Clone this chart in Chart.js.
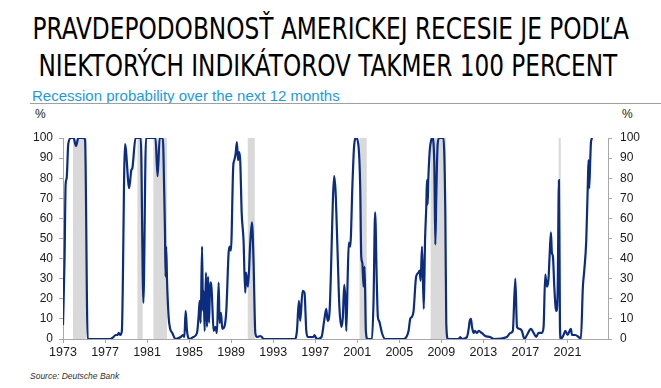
<!DOCTYPE html>
<html>
<head>
<meta charset="utf-8">
<script src="https://cdn.jsdelivr.net/npm/chart.js@4.4.1/dist/chart.umd.min.js"></script>
<style>
  body { margin: 0; background: #fff; width: 661px; height: 388px; position: relative; overflow: hidden; }
  .title { position: absolute; left: 330px; white-space: nowrap;
           font-family: "Liberation Sans Narrow", "DejaVu Sans Condensed", "Liberation Sans", sans-serif;
           font-size: 31px; line-height: 32px; color: #000; transform-origin: center; }
  #subtitle { position: absolute; left: 32px; top: 87px; font-family: "Liberation Sans", Arial, sans-serif;
              font-size: 15px; color: #1f9ad8; white-space: nowrap; }
  #rule { position: absolute; left: 30px; top: 103px; width: 631px; height: 0; border-top: 1.5px solid #a0a0a0; }
  .pct { position: absolute; top: 107px; font-family: "Liberation Sans", Arial, sans-serif; font-size: 12px; color: #222; }
  #source { position: absolute; left: 30px; top: 371px; font-family: "Liberation Sans", Arial, sans-serif;
            font-size: 8.5px; font-style: italic; color: #333; }
  #chart { position: absolute; left: 0; top: 105px; }
</style>
</head>
<body>
<div class="title" id="t1" style="top:12px">PRAVDEPODOBNOSŤ AMERICKEJ RECESIE JE PODĽA</div>
<div class="title" id="t2" style="top:49px">NIEKTORÝCH INDIKÁTOROV TAKMER 100 PERCENT</div>
<div id="subtitle">Recession probability over the next 12 months</div>
<div id="rule"></div>
<div class="pct" style="left:35px">%</div>
<div class="pct" style="left:622px">%</div>
<canvas id="chart" width="661" height="265"></canvas>
<div id="source">Source: Deutsche Bank</div>

<script>
// fit the two title lines to the width they have in the picture
function fitWidth(id, target, center) {
  let el = document.getElementById(id);
  let w = el.offsetWidth;
  el.style.left = (center - w / 2) + 'px';
  el.style.transform = 'scaleX(' + (target / w) + ')';
}
fitWidth('t1', 596, 330);
fitWidth('t2', 579, 327.5);

// Recession probability (decimal year, %)
const years = [
  1973.00, 1973.15, 1973.25, 1973.35, 1973.50, 1973.76, 1974.00, 1974.24, 1974.46, 1974.94,
  1975.10, 1975.35, 1977.50, 1977.80, 1978.00, 1978.20, 1978.30, 1978.45, 1978.60, 1978.90,
  1979.30, 1979.50, 1979.60, 1979.90, 1980.40, 1980.65, 1980.90, 1981.80, 1982.00, 1982.20,
  1982.50, 1982.64, 1982.70, 1982.76, 1982.82, 1982.90, 1983.05, 1983.20, 1983.40, 1983.70,
  1984.20, 1984.40, 1984.55, 1984.67, 1984.80, 1985.05, 1985.40, 1985.75, 1985.90, 1986.00,
  1986.10, 1986.23, 1986.32, 1986.38, 1986.48, 1986.60, 1986.70, 1986.80, 1986.90, 1987.00,
  1987.10, 1987.20, 1987.33, 1987.50, 1987.65, 1987.81, 1987.90, 1988.03, 1988.16, 1988.35,
  1988.54, 1988.76, 1988.86, 1988.98, 1989.20, 1989.30, 1989.42, 1989.55, 1989.65, 1989.77,
  1989.87, 1990.00, 1990.18, 1990.34, 1990.42, 1990.60, 1990.82, 1990.98, 1991.13, 1991.30,
  1991.45, 1991.80, 1992.10, 1995.10, 1995.26, 1995.45, 1995.57, 1995.80, 1995.98, 1996.15,
  1996.30, 1996.84, 1996.93, 1997.15, 1997.60, 1997.85, 1998.05, 1998.18, 1998.37, 1998.50,
  1998.68, 1998.80, 1998.94, 1999.10, 1999.30, 1999.50, 1999.63, 1999.76, 1999.88, 1999.96,
  2000.10, 2000.20, 2000.33, 2000.55, 2000.70, 2000.90, 2001.10, 2001.28, 2001.38, 2001.48,
  2001.60, 2001.70, 2001.82, 2001.98, 2002.40, 2002.55, 2002.70, 2002.86, 2002.96, 2003.08,
  2003.35, 2003.66, 2005.40, 2005.88, 2006.04, 2006.20, 2006.36, 2006.60, 2006.83, 2006.93,
  2007.03, 2007.16, 2007.33, 2007.45, 2007.57, 2007.63, 2007.70, 2007.76, 2007.90, 2008.04,
  2008.15, 2008.33, 2008.43, 2008.52, 2008.65, 2008.80, 2009.20, 2009.38, 2009.47, 2009.63,
  2010.65, 2010.80, 2010.95, 2011.44, 2011.60, 2011.70, 2011.82, 2011.92, 2012.07, 2012.20,
  2012.38, 2012.55, 2012.85, 2013.18, 2013.65, 2013.97, 2015.24, 2015.56, 2015.80, 2016.04,
  2016.20, 2016.45, 2016.67, 2016.90, 2017.15, 2017.53, 2017.78, 2018.03, 2018.25, 2018.57,
  2018.73, 2018.89, 2019.05, 2019.20, 2019.30, 2019.43, 2019.52, 2019.62, 2019.75, 2019.87,
  2019.94, 2020.07, 2020.19, 2020.29, 2020.38, 2020.63, 2020.80, 2021.02, 2021.20, 2021.33,
  2021.43, 2021.75, 2022.06, 2022.28, 2022.47, 2022.60, 2022.79, 2022.95, 2023.01, 2023.07,
  2023.17, 2023.24, 2023.36
];
const probability = [
  7, 40, 77, 80, 97, 100, 100, 96, 100, 100,
  99, 0, 0, 1, 2, 2, 3, 2, 4, 97,
  75, 84, 85, 100, 100, 18, 100, 100, 81, 100,
  100, 71, 55, 31, 46, 29, 11, 5, 3, 0,
  1, 2, 1, 14, 4, 0, 1, 3, 11, 19,
  8, 46, 14, 24, 4, 33, 6, 31, 8, 28,
  28, 18, 4, 6, 3, 28, 8, 13, 5, 6,
  14, 43, 46, 44, 86, 89, 92, 98, 89, 93,
  88, 63, 49, 23, 33, 26, 48, 58, 39, 3,
  1, 1.5, 0, 0, 4, 19, 9, 24, 23, 4,
  1, 1, 2, 0, 1, 9, 15, 9, 14, 34,
  69, 81, 73, 48, 16, 6, 11, 27, 19, 4,
  33, 48, 46, 78, 96, 100, 97, 76, 41, 38,
  26, 36, 4, 0, 0, 19, 63, 28, 11, 9,
  3, 0, 0, 4, 10, 11, 14, 31, 33, 34,
  29, 46, 15, 49, 66, 79, 67, 79, 94, 99,
  100, 88, 47, 71, 97, 100, 100, 63, 8, 0,
  0, 1, 0, 1, 5, 9, 10, 6, 3, 4,
  3, 4, 3, 1.5, 1, 0, 1, 3, 4, 30,
  6, 5, 4, 0, 2, 5, 3, 1, 3, 3,
  6, 32, 26, 30, 41, 53, 43, 41, 26, 16,
  14, 24, 79, 6, 0, 2, 4, 2, 4, 5,
  2, 2, 1, 0, 26, 34, 49, 79, 89, 75,
  89, 98, 100
];

// US recessions (shaded)
const recessionStart = [1973.95, 1980.08, 1981.60, 1990.58, 2001.22, 2007.98, 2020.17];
const recessionEnd   = [1975.22, 1980.58, 1982.90, 1991.25, 2001.90, 2009.45, 2020.37];

const xTicks = [1973, 1977, 1981, 1985, 1989, 1993, 1997, 2001, 2005, 2009, 2013, 2017, 2021];
const yTicks = [0, 10, 20, 30, 40, 50, 60, 70, 80, 90, 100];

const recessionShading = {
  id: 'recessionShading',
  beforeDatasetsDraw(chart) {
    let ctx = chart.ctx;
    let x = chart.scales.x, y = chart.scales.y;
    ctx.save();
    ctx.fillStyle = '#d9d9d9';
    recessionStart.forEach((s, i) => {
      let x1 = x.getPixelForValue(s);
      let x2 = x.getPixelForValue(recessionEnd[i]);
      let top = y.getPixelForValue(100);
      let bottom = y.getPixelForValue(0);
      ctx.fillRect(x1, top, x2 - x1, bottom - top);
    });
    ctx.restore();
  }
};

const axisColor = '#a8a8a8';
const tickFont = { family: '"Liberation Sans", Arial, sans-serif', size: 12 };

function yAxis(position, width, pad) {
  return {
    type: 'linear',
    position: position,
    min: 0,
    max: 100,
    afterBuildTicks: (scale) => { scale.ticks = yTicks.map(v => ({ value: v })); },
    afterFit: (scale) => { scale.width = width; },
    grid: { drawOnChartArea: false, drawTicks: true, tickLength: 4, color: axisColor },
    border: { color: axisColor, width: 1 },
    ticks: { color: '#1a1a1a', font: tickFont, padding: pad }
  };
}

new Chart(document.getElementById('chart'), {
  type: 'line',
  data: {
    datasets: [{
      data: years.map((yr, i) => ({ x: yr, y: probability[i] })),
      borderColor: '#0c2c80',
      borderWidth: 2.2,
      pointRadius: 0,
      cubicInterpolationMode: 'monotone',
      fill: false
    }]
  },
  options: {
    responsive: false,
    animation: false,
    layout: { padding: { top: 33, left: 0, right: 0, bottom: 0 } },
    plugins: { legend: { display: false }, tooltip: { enabled: false } },
    scales: {
      x: {
        type: 'linear',
        min: 1973,
        max: 2024.86,
        afterBuildTicks: (scale) => { scale.ticks = xTicks.map(v => ({ value: v })); },
        afterFit: (scale) => { scale.height = 31; },
        grid: { drawOnChartArea: false, drawTicks: true, tickLength: 4, color: axisColor },
        border: { color: axisColor, width: 1 },
        ticks: {
          color: '#1a1a1a',
          font: { family: '"Liberation Sans", Arial, sans-serif', size: 12.5 },
          padding: 2,
          maxRotation: 0,
          autoSkip: false,
          callback: (v) => String(v)
        }
      },
      y: yAxis('left', 63, 6),
      y2: yAxis('right', 53, 8)
    }
  },
  plugins: [recessionShading]
});
</script>
</body>
</html>
